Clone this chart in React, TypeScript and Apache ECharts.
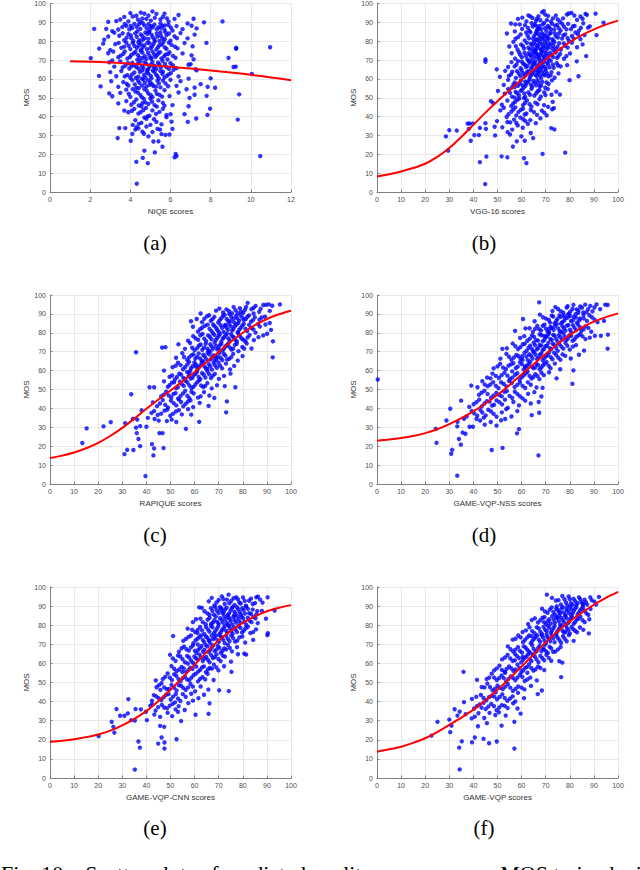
import React, { useEffect, useRef } from "react";
import * as echarts from "echarts";

// ---------- data ----------
const aPts: number[][] = [
  [4.0,94.9],[4.3,93.5],[4.7,94.6],[5.1,95.8],[5.3,94.5],[5.5,91.5],[5.7,94.6],[4.6,92],[3.7,92.9],[3.5,91.5],[3.9,90.5],[4.8,91.8],[6.4,93.9],[6.2,91.8],[7.15,91.9],[7.67,90],[8.59,90.5],[5.9,90.4],[4.5,90.2],[3.3,90.7],[2.9,90.3],
  [2.2,86.5],[2.8,86.5],[3.1,85.3],[3.4,86.2],[3.6,87.5],[3.8,88.2],[4.1,87],[4.2,89.2],[4.5,86.5],[4.7,88.4],[4.9,89],[5.0,86.7],[5.2,88.8],[5.4,87.5],[5.5,89.5],[5.7,86.1],[5.9,88.6],[6.1,85.6],[6.3,88],[6.6,86.4],[6.85,89.4],[7.05,88.2],[7.3,86.8],[4.35,85.3],[4.95,85.1],[5.6,88.1],[3.95,86.3],
  [2.7,80.8],[2.9,82.5],[3.2,84.5],[3.45,82.9],[3.7,80.5],[3.9,83.8],[4.05,81.6],[4.25,84.2],[4.45,80.5],[4.6,82.7],[4.75,84.6],[4.9,81.2],[5.05,83.5],[5.2,80.8],[5.35,82.4],[5.5,84.7],[5.6,81.5],[5.8,83.2],[6.0,80.3],[6.2,82.6],[6.5,84.3],[6.85,81.5],[7.2,83.5],[4.15,80.1],[5.45,80.1],[4.85,83.9],[5.75,84.8],
  [2.45,76.1],[2.65,78.7],[3.0,75.3],[3.25,78.4],[3.55,76.5],[3.8,79.3],[4.0,75.8],[4.2,77.6],[4.4,79.5],[4.55,75.5],[4.7,77.8],[4.85,79.2],[5.0,76.3],[5.15,78.5],[5.3,75.6],[5.45,77.9],[5.65,79.6],[5.8,75.9],[6.05,78.1],[6.35,76.2],[6.7,79],[7.1,77.3],[7.79,79.1],[9.27,76.5],[9.27,76],[10.96,76.8],[4.95,78.9],[3.7,77.1],
  [2.03,71],[2.9,73.6],[3.15,74.5],[3.4,71.5],[3.65,73.3],[3.85,70.8],[4.05,72.7],[4.25,74.3],[4.45,71.3],[4.6,73.9],[4.8,70.5],[4.95,72.3],[5.1,74.6],[5.25,71.6],[5.4,73.5],[5.55,70.9],[5.75,72.9],[5.95,74.1],[6.25,71.2],[6.6,73.5],[7.05,72.5],[7.15,70.4],[8.89,71.2],[4.35,70.2],[5.05,71.1],[5.85,70.3],
  [2.95,68.8],[3.2,66.5],[3.5,69.3],[3.75,67],[3.95,65.5],[4.1,68.5],[4.3,66.2],[4.5,69.4],[4.65,65.8],[4.8,67.9],[4.95,66.4],[5.1,69.1],[5.3,65.3],[5.45,67.7],[5.6,69.6],[5.8,66.2],[6.0,68.3],[6.3,65.7],[6.9,67.5],[7.0,67.8],[7.25,65.2],[9.14,66.3],[9.25,66.5],[4.05,66.7],[5.2,67],[3.1,69.8],
  [2.44,61.6],[3.0,63.6],[3.3,61.4],[3.55,64.2],[3.85,62],[4.0,60.6],[4.2,63.4],[4.4,61.2],[4.6,64.5],[4.75,60.8],[4.9,62.8],[5.05,60.3],[5.2,63.7],[5.35,61.5],[5.5,64.1],[5.7,60.7],[5.9,62.4],[6.15,64.8],[6.4,61.3],[6.9,60.1],[7.3,64.6],[8.0,60.3],[10.05,62.6],[4.85,64.6],[5.6,62.6],
  [2.52,56],[3.05,58.8],[3.4,55.8],[3.65,58.3],[3.9,56.5],[4.1,59.4],[4.3,55.3],[4.45,57.9],[4.65,59.6],[4.8,55.9],[5.0,58.2],[5.15,56.2],[5.35,59.1],[5.5,55.5],[5.75,57.6],[6.0,59.5],[6.3,56.3],[6.5,58.8],[7.2,55.4],[7.5,57.2],[7.85,55.8],[4.95,56.9],
  [3.1,50.8],[3.5,52.6],[3.8,54.3],[4.0,50.5],[4.25,53.3],[4.5,51.4],[4.7,54.6],[4.9,52.2],[5.1,50.3],[5.25,53.8],[5.45,51.5],[5.7,54],[5.95,50.9],[6.4,52.8],[6.8,54.5],[6.95,49.9],[7.2,51.6],[7.8,51],[8.22,55.3],[9.42,51.8],[2.95,52.3],
  [3.4,47],[3.8,48.2],[4.05,46.3],[4.3,49.1],[4.55,45.5],[4.75,47.5],[5.0,49.6],[5.2,46.1],[5.4,48.6],[5.7,45.8],[6.1,46.1],[6.9,45.5],[4.6,47.1],[4.9,46.7],
  [3.7,43.2],[3.9,42.3],[4.2,44.1],[4.4,41.6],[4.65,43.5],[4.95,40.5],[5.1,43.3],[5.45,42.5],[5.8,40.8],[6.0,41.3],[6.7,41.3],[7.84,40.9],[7.97,44.2],[4.85,40.1],
  [4.25,38.1],[4.55,36.7],[4.8,38.8],[5.0,35.6],[5.3,37.2],[5.55,35.9],[5.8,39.7],[6.05,37.3],[6.86,37.2],[7.28,39],[9.35,38.4],[4.7,39.5],
  [3.45,33.9],[3.75,33.9],[4.1,30.8],[4.25,33.1],[4.4,33.8],[4.6,32],[4.8,34.7],[4.9,29.5],[5.1,31.8],[5.35,33.5],[5.55,30.7],[5.75,30.3],[6.1,33.5],[5.95,30.5],[4.3,34.3],
  [3.37,28.6],[4.02,27.2],[4.7,21.9],[5.15,26.8],[5.4,26.9],[5.6,24],[5.22,21],
  [4.32,4.4],[4.3,16],[4.87,15.3],[4.62,18.1],[6.26,20.2],[6.3,19],[6.2,18.4],[10.47,19],
];
const aCore: number[][] = [
  [4.12,93.1],[4.52,95.2],[4.9,93.6],[5.22,92.4],[5.62,92.9],[5.02,90.9],[4.38,91.4],[5.82,92.1],
  [3.72,89.1],[4.02,88.1],[4.32,87.6],[4.62,89.6],[4.82,86.9],[5.12,87.4],[5.32,86.3],[5.52,87.1],[5.72,88.4],[6.02,87.2],[4.42,88.9],[5.02,88.1],
  [3.62,84.2],[3.82,81.9],[4.02,83.1],[4.32,82.3],[4.52,83.6],[4.72,81.6],[4.92,84.9],[5.12,82.1],[5.32,84.1],[5.52,82.9],[5.72,81.1],[5.92,84.1],[6.32,81.6],[4.62,80.7],
  [3.42,79.1],[3.92,77.6],[4.12,79.1],[4.32,76.4],[4.52,78.6],[4.62,76.9],[4.82,75.8],[5.08,77.2],[5.22,79.9],[5.38,76.8],[5.58,78.2],[5.72,76.7],[5.92,79.2],[6.22,77.1],[4.42,77.7],
  [3.52,72.3],[3.72,74.6],[3.98,71.6],[4.18,73.6],[4.38,72.6],[4.52,74.8],[4.72,72.1],[4.88,73.9],[5.02,70.9],[5.18,73.1],[5.32,72.6],[5.48,74.2],[5.68,71.9],[5.88,73.2],[6.12,72.2],[4.62,71.1],
  [3.62,66.1],[3.88,68.3],[4.18,67.3],[4.38,68.1],[4.58,66.9],[4.72,68.8],[4.88,65.1],[5.02,67.6],[5.18,65.9],[5.38,68.6],[5.52,66.1],[5.72,67.9],[5.92,65.4],[6.12,67.2],[4.42,65.4],
  [3.72,61.3],[4.08,62.3],[4.28,60.6],[4.48,63.6],[4.68,62.1],[4.82,63.4],[5.02,61.6],[5.12,64.4],[5.28,62.3],[5.42,60.2],[5.62,63.9],[5.82,61.6],[6.02,63.1],[4.58,60.1],
  [3.82,57.4],[4.22,57.1],[4.38,59.1],[4.58,56.4],[4.72,57.9],[4.88,59.3],[5.08,57.1],[5.28,55.9],[5.42,57.6],[5.62,59.1],[5.88,56.1],[4.42,55.1],
  [3.92,52.1],[4.38,52.7],[4.58,50.2],[4.82,53.6],[5.02,51.4],[5.32,52.1],[5.58,50.6],[4.12,54.6],
  [4.18,47.6],[4.42,45.9],[4.68,49.3],[5.08,47.9],[5.32,45.3],[5.62,47.3],
  [4.08,43.1],[4.52,42.4],[4.78,44.6],[5.28,41.4],[5.62,44.1],
  [4.42,36.1],[5.18,38.6],[4.12,35.6],[5.48,33.1],[4.68,30.9],
];
const aCurveX = [1, 2, 3, 4, 5, 6, 7, 8, 9, 10, 11, 12];
const aCurveY = [69.3, 69.1, 68.7, 68.1, 67.3, 66.4, 65.5, 64.5, 63.4, 62.2, 60.8, 59.3];

const bPts: number[][] = [
  [58.5,91.8],[62,90.5],[64.5,92.3],[66,90.8],[67,93.2],[68.5,95.3],[69.2,96],[70.5,91.2],[71,93.4],[73,92.1],[75,91.5],[78.8,94.1],[79.5,94.7],[80.7,95],[84.4,93.1],[86.5,94.5],[87.1,94],[90.7,94.6],[76,90.3],[83,91.3],[62.8,93.7],[57.4,88.9],
  [55.6,89.4],[57.2,85.2],[60.2,86.5],[61.4,88.5],[63.2,85.5],[64.6,87.8],[65.4,89.1],[66.3,85.9],[67.4,88.1],[68.2,86.4],[69.3,89.7],[70.3,85.3],[71.4,87.3],[72.6,89.2],[73.5,86.1],[74.8,88.6],[76.2,85.6],[77.6,87.7],[79.3,89.2],[80.5,86.4],[82,88.1],[83.8,85.6],[85.6,89.5],[87.6,87.2],[88.3,87.9],[94,89.8],[66.9,87],[69.8,86.9],
  [53.9,84.1],[57.5,81.3],[59.6,83.6],[61.3,80.4],[62.5,82.9],[63.7,84.7],[64.8,81.2],[65.8,83.8],[66.6,80.6],[67.5,82.4],[68.4,84.3],[69.3,80.9],[70.2,83.1],[71.2,81.6],[72.1,84.5],[73.2,80.3],[74.2,82.6],[75.5,84.1],[76.8,81.4],[78.1,83.6],[79.6,80.2],[80.9,82.8],[82.3,84.6],[84.4,81.1],[86.1,83.3],[91.1,83.2],[66.1,84.8],[68.9,82.1],[70.8,80.2],
  [54.9,77.2],[56.6,79.6],[58.3,75.6],[59.8,78.2],[61,76.1],[62.2,79.1],[63.4,75.8],[64.3,77.9],[65.2,79.6],[66.2,76.4],[67.1,78.4],[68,75.4],[68.9,77.3],[69.7,79.3],[70.6,75.9],[71.5,78.1],[72.6,76.2],[73.6,79.4],[74.9,77.1],[76.3,75.6],[77.5,78.8],[79.1,76.6],[80.9,79.2],[83,76.8],[85.3,78.3],[65.8,75.2],[67.6,79.8],
  [55.9,73.6],[57.3,70.8],[58.9,74.2],[60.1,71.5],[61.2,73.8],[62.4,70.4],[63.5,72.7],[64.5,74.6],[65.3,71.3],[66.1,73.5],[67,70.6],[67.8,72.8],[68.7,74.7],[69.5,71.6],[70.4,73.4],[71.3,70.3],[72.4,72.6],[73.5,74.8],[74.7,71.2],[76,73.3],[77.6,70.7],[80.1,73.5],[82.9,69.3],[86.8,72.1],[45,70.4],[45,69.1],[66.5,71.9],[69,70.1],
  [49.7,65.1],[54.4,66.3],[55.8,68.9],[57.1,66.6],[58.5,69.4],[59.6,65.7],[60.7,68.1],[61.8,66.2],[62.9,69.5],[63.9,65.4],[64.8,67.6],[65.7,69.3],[66.6,65.8],[67.4,68.2],[68.3,66.1],[69.2,69.1],[70,65.5],[71,67.7],[72.1,69.6],[73.3,65.9],[74.6,68.4],[76.2,66.6],[78.9,67.3],[64.2,69.9],[67.9,65.1],
  [51,61.1],[53.2,64.3],[54.7,61.6],[56.1,63.8],[57.6,60.5],[58.8,62.9],[60,64.6],[61.1,61.2],[62.3,63.6],[63.4,60.8],[64.4,62.7],[65.4,64.8],[66.3,61.5],[67.2,63.4],[68.1,60.3],[69,62.4],[70,64.3],[71.1,61.3],[72.4,63.6],[73.7,60.6],[75.3,62.9],[83.6,61.4],[66.9,64.1],
  [52.6,56.8],[54.4,59.5],[55.9,55.5],[57.2,58.1],[58.5,56.3],[59.7,59.2],[60.9,55.4],[62.1,57.7],[63.3,59.6],[64.4,55.8],[65.5,57.9],[66.5,59.4],[67.5,56.1],[68.6,58.4],[69.8,55.3],[71.2,57.3],[72.6,59.2],[79.9,59.3],[61.5,58.6],[57.1,55.6],
  [50.2,53.6],[53,52.2],[54.4,54.6],[56,50.6],[57.5,53.1],[58.9,51.2],[60.2,54.3],[61.5,50.4],[62.8,52.8],[64.1,54.7],[65.3,51.1],[66.7,53.5],[68,50.6],[69.4,52.9],[70.9,54.6],[72.4,51.6],[74.4,53.2],[75.9,51.7],[57.1,50.1],
  [47.3,48.2],[48.2,47.1],[51.8,46.3],[54.1,48.5],[55.7,45.6],[57.3,47.8],[59,49.5],[60.6,46.1],[62.2,48.6],[64.1,45.3],[65.7,47.4],[67.4,49.3],[69.3,46.1],[71,45.2],[72.9,47.8],[61,49.8],
  [51.2,43.3],[52.6,44.7],[54.6,41.3],[56.6,43.8],[57.8,40.6],[58.7,42.4],[60.6,44.2],[62,41.6],[63.8,43.5],[66.4,40.9],[68.4,43.2],[70.4,40.6],[72.7,43.9],[73.4,44.5],[57.4,44.9],
  [45,36.5],[49.8,37.6],[53.8,39.8],[55.3,36.9],[56.9,38.4],[58.4,35.3],[59.5,39.5],[61.6,37.6],[63.6,38.1],[65.9,36.5],[67.8,39.1],[37.6,36.3],[38.4,36.3],[39.7,36.3],
  [28.6,29.5],[30,32.8],[33.1,32.6],[38.1,33.5],[40.4,30.2],[42.7,34],[42.3,30.2],[45.2,33.5],[48.8,34.6],[49,30],[52,34.3],[54.2,31.8],[56.1,33.1],[60.5,34.1],[63.8,31.3],[72.3,33.9],[73.6,33.2],[55.2,30.5],
  [29.5,21.9],[38.9,27.2],[56.4,24.1],[58,26.9],[59.9,29.5],[61.3,27.2],[64.8,28.6],[68.7,20.2],[78.1,20.9],
  [42.7,15.8],[45.4,18.8],[44.9,4.2],[51.7,18.9],[54.1,18.4],[61,17.9],[62,15.3],
];
const bCore: number[][] = [
  [63.6,93.2],[66.4,91.9],[69.8,94.1],[72.2,90.4],[74.2,93.6],[77.2,92.1],[81.9,93.6],[85.3,91.9],[67.8,91.1],[60.3,92.5],
  [62.6,87.1],[64.1,89.6],[65.9,88.3],[67.1,86.2],[68.8,88.9],[70.9,88.1],[72.1,86.4],[73.9,88.3],[75.4,86.9],[76.9,89.1],[78.6,86.3],[81.3,87.9],[84.6,87.1],[59.2,88.9],
  [61.9,84.6],[63.1,81.5],[65.1,82.6],[66.2,80.9],[67.1,83.8],[68.1,81.3],[69.1,83.5],[70.6,82.1],[71.7,83.9],[72.7,81.1],[73.8,84.1],[75.1,81.9],[77.3,83.1],[79.1,81.6],[81.6,81.4],[83.4,83.7],[58.6,82.2],
  [60.6,77.4],[62.8,76.6],[63.9,78.7],[64.8,76.1],[65.7,78.3],[66.6,77.4],[67.6,76.2],[68.4,78.6],[69.3,76.4],[70.2,78.1],[71.1,76.7],[72.1,78.8],[73.1,77.6],[74.2,75.9],[75.6,78.9],[78.1,77.6],[57.6,77.4],
  [59.4,72.8],[61.8,72.1],[62.9,73.6],[63.9,71.9],[64.9,73.1],[65.7,74.4],[66.7,72.9],[67.4,71.3],[68.2,73.9],[69.1,72.2],[69.9,74.1],[70.9,72.1],[71.9,73.9],[73.1,71.6],[74.1,73.9],[75.3,71.9],[78.6,72.1],
  [57.9,67.6],[60.1,69.1],[61.3,67.6],[62.4,66.9],[63.4,68.6],[64.3,66.4],[65.2,68.4],[66.1,67.1],[67,66.6],[67.8,69.6],[68.7,67.4],[69.6,66.3],[70.6,68.6],[71.6,66.1],[73,67.6],[75.1,67.1],
  [55.6,62.4],[58.1,64.1],[59.4,61.6],[60.6,63.1],[61.7,62.3],[62.8,64.1],[63.9,61.9],[64.9,63.8],[65.8,62.1],[66.7,63.4],[67.7,61.6],[68.6,63.9],[69.6,61.9],[70.6,62.9],[72,61.9],
  [56.6,57.1],[59.1,57.6],[60.3,56.7],[61.6,56.3],[62.7,58.6],[63.9,56.9],[64.9,58.9],[66,56.6],[67.1,58.1],[68.1,56.4],[70.4,58.1],
  [55.2,52.6],[58.2,52.4],[59.6,53.6],[61.1,52.3],[63.5,51.6],[66.1,52.4],[67.4,54.1],[69.9,51.4],
  [56.5,46.9],[58.2,48.9],[61.4,47.2],[63.3,46.6],[66.6,46.6],
  [55.8,42.7],[59.7,43.6],[61.3,41.1],[65.1,42.4],[69.4,42.1],
  [54.1,37.1],[57.8,36.6],[60.7,38.6],[62.6,36.1],
];
const curveX100 = [0, 5, 10, 15, 20, 25, 30, 35, 40, 45, 50, 55, 60, 65, 70, 75, 80, 85, 90, 95, 100];
const bCurveY = [8.2, 9.4, 10.9, 12.7, 15.0, 18.6, 23.3, 29.2, 35.6, 42.1, 48.2, 53.9, 59.5, 65.0, 70.2, 75.0, 79.5, 83.2, 86.3, 88.8, 90.9];

const cPts: number[][] = [
  [62.5,90.2],[66,89.3],[68.9,91.7],[71.8,90.8],[73.2,92.4],[75.5,90.3],[77,91.9],[78.8,93],[80.2,90.6],[82,95.8],[83.6,92.5],[85.3,94.2],[86.8,91.1],[88.5,94.7],[89.6,94.8],[90.8,95],[92.2,94.3],[95.4,95],[79.3,91.2],[84.5,90.2],[81.4,93.7],
  [58.5,86.1],[60.9,87.3],[63.1,85.6],[65.1,88.7],[66.7,86.3],[68.2,88.4],[69.8,85.4],[71.1,87.7],[72.5,89.5],[73.9,86.2],[75.2,88.4],[76.4,85.5],[77.7,87.6],[79,89.4],[80.4,86.8],[81.9,88.5],[83.4,85.9],[85,88.2],[86.9,86.9],[89.2,88.5],[91.2,85.2],[74.4,89.9],[78.1,85.1],
  [59.3,83.2],[61.4,80.6],[63.2,82.8],[65.4,84.3],[67,80.9],[68.3,83.5],[69.5,81.3],[70.8,84.1],[72,80.5],[73.2,82.8],[74.4,84.7],[75.6,81.2],[76.7,83.4],[77.9,80.3],[79.1,82.6],[80.4,84.7],[81.8,80.9],[83.5,82.6],[85.3,80.1],[87.1,83.3],[89.4,84.4],[91.7,81.5],[72.8,84.2],
  [57.3,75.8],[59.4,78.2],[61.5,76.3],[63.3,79.4],[64.8,75.6],[66.3,77.9],[67.6,79.8],[68.8,76.2],[70,78.4],[71.1,75.3],[72.2,77.6],[73.4,79.5],[74.6,75.9],[75.7,78.1],[76.9,76.3],[78.1,79.6],[79.5,77],[81.1,75.4],[82.8,78.8],[84.6,76.1],[88.5,78.6],[92.5,75.5],[90.1,79.5],
  [53.3,73.9],[56,71.5],[58.1,74.6],[60,70.8],[61.8,73.2],[63.2,71],[64.6,74.2],[65.9,70.4],[67.1,72.7],[68.3,74.8],[69.4,71.2],[70.5,73.5],[71.6,70.6],[72.8,72.8],[74,74.4],[75.3,71.1],[76.7,73.6],[78.2,70.3],[79.8,72.5],[81.6,74.3],[83.6,71.7],[35.7,69.7],[46.5,72.2],[47.9,72.4],[66.6,70.1],
  [52.3,66.8],[54.9,69.2],[56.9,65.7],[58.7,68.1],[60.3,66.3],[61.7,69.1],[63,65.2],[64.2,67.5],[65.4,69.5],[66.6,65.8],[67.8,68],[69,66.1],[70.2,69.2],[71.5,65.6],[72.8,67.9],[74.3,66.2],[76,68.8],[77.9,65.3],[79.9,67.7],[92.4,67],[68.4,67.7],
  [50.9,61.8],[53.1,64.2],[55.2,60.7],[57,63.3],[58.5,61.3],[59.9,64.3],[61.1,60.4],[62.3,62.6],[63.5,64.7],[64.7,61.1],[65.9,63.4],[67.2,60.5],[68.5,62.8],[69.9,64.3],[71.4,61.2],[73,63.7],[74.7,60.6],[76.4,62.5],[47.3,60],[60.6,62.2],[58.2,59.9],
  [49.6,56.7],[51.8,55.3],[53.6,58.4],[55.3,56.2],[56.9,59.3],[58.4,55.8],[59.7,57.7],[61,59.3],[62.4,55.5],[63.8,57.8],[65.3,59.6],[66.8,56.1],[68.4,58.3],[70.1,55.6],[72.2,57.2],[74.9,58.4],[57.5,57.1],
  [47.3,54.3],[48.9,51.4],[50.6,53.6],[52.3,50.7],[53.9,54.2],[55.5,51.9],[57,53.8],[58.7,50.8],[60.3,52.6],[61.9,54.8],[63.6,51.3],[65.3,53.4],[67.1,50.6],[69.3,52.2],[72.5,51.8],[76.9,51.2],[41.3,51.2],[43.2,51.2],
  [46.1,46.3],[48.2,48.8],[50.3,45.8],[52.1,48.1],[54.2,46.6],[56.1,49.3],[57.8,45.4],[59.6,47.9],[61.4,45.7],[63.9,48.6],[66.1,46.8],[33.7,47.5],[68.2,45.5],
  [42.7,43.2],[44.4,41.2],[46.8,44.4],[48.9,40.5],[51.3,42.8],[53.5,44.6],[55.3,41.1],[57.2,43.6],[59.4,40.7],[62.1,42.9],[65.8,41.3],[73.4,43.7],
  [38,39],[40.6,35],[42.1,37.6],[44.7,36.5],[47.5,38.8],[49.9,36.1],[52.3,38.4],[54.7,36.8],[57.3,39.6],[58.6,36.7],[73.1,37.9],
  [22.2,30.5],[25.2,32.7],[31.2,32.2],[34.4,34.5],[36.2,34.1],[37.4,30.6],[40,30.3],[43.4,34.4],[45.1,33.5],[48.5,33.3],[50.5,34.1],[52.4,32.8],[61.9,32.9],
  [13.4,21.7],[15.2,29.4],[35.7,29.8],[36,26.9],[36.7,23.8],[37.4,20],[42.3,21.1],[45.4,26.9],[46.7,26.9],[56.4,29.2],
  [30.9,15.8],[32,18.1],[34.6,18],[39.6,4.2],[43.2,18.8],[42.9,15.1],[47.1,19],
];
const cCore: number[][] = [
  [70.3,92.8],[74.3,91.4],[76.2,93.6],[80.9,92.2],[84.5,93.2],[87.4,92.7],[91.2,91.6],[77.9,90.4],
  [64,87.4],[67.4,87.2],[70.4,86.6],[71.8,88.9],[73.3,87.3],[74.8,86.2],[76.1,87.4],[77.2,88.9],[78.5,86.4],[79.8,88.1],[81.2,87.2],[82.6,89.2],[84.2,86.7],[87.8,88.1],
  [62.3,81.9],[64.3,83.7],[66.2,82.1],[67.7,84.4],[69,82.4],[70.1,80.3],[71.4,82.6],[72.6,83.8],[73.8,81.6],[75,83.4],[76.1,82.1],[77.3,84.4],[78.5,81.5],[79.8,83.8],[81.1,82.1],[82.6,84.2],[84.4,81.8],[86.3,84.6],
  [60.4,77.1],[62.4,78.7],[64,76.9],[65.6,78.6],[67,76.6],[68.2,78.9],[69.4,77.3],[70.5,79.2],[71.7,76.9],[72.8,78.6],[74,77.1],[75.1,79.3],[76.3,77.5],[77.5,75.5],[78.8,78.2],[80.3,76.3],[82,77.5],[86.5,77.7],
  [59,72.1],[61.1,71.9],[62.5,73.8],[63.9,72.2],[65.3,71.6],[66.5,73.9],[67.7,71.6],[68.9,73.1],[70,71.9],[71.1,74.1],[72.2,71.7],[73.4,73.4],[74.6,72.3],[76,71.6],[77.5,74.2],[80.6,71.6],
  [55.6,67.2],[57.7,66.9],[59.5,68.6],[61,67.3],[62.3,66.4],[63.6,68.4],[64.8,66.1],[66,68.6],[67.2,66.9],[68.4,65.3],[69.6,67.2],[70.8,66.8],[72.1,68.9],[73.5,65.8],[75.2,67.1],
  [52.2,62.6],[54.2,62.9],[56.1,61.9],[57.7,64.6],[59.2,62.3],[60.5,63.3],[61.7,61.6],[62.9,63.9],[64.1,62.2],[65.3,60.9],[66.5,62.3],[67.9,64.1],[69.2,61.5],[70.6,62.6],
  [50.7,57.4],[52.7,56.6],[54.4,57.9],[56.1,55.6],[57.7,58.6],[59.1,56.2],[60.4,58.3],[61.7,56.6],[63.1,58.7],[64.5,56.3],[66,58.1],[67.6,57.3],
  [49.6,52.3],[51.5,53.8],[53.1,51.3],[54.7,52.8],[56.2,54.6],[57.8,52.2],[59.5,51.4],[61.1,53.9],[62.7,52.1],[64.4,51.9],
  [47.2,47.3],[49.2,46.9],[51.2,47.6],[53.2,45.3],[55.2,47.9],[57,46.7],[58.7,48.8],[62.5,46.4],
  [45.6,42.6],[47.8,41.9],[50.2,44.1],[52.4,41.6],[54.4,43.4],[56.3,42.4],[58.3,44.2],
  [43.2,38.6],[46.1,37.2],[48.7,39.4],[51.1,37.2],[53.5,39.1],
];
const cCurveY = [13.7, 15.0, 16.7, 18.9, 21.8, 25.4, 29.7, 34.6, 39.8, 44.7, 49.5, 54.3, 59.3, 64.6, 69.9, 75.2, 80.0, 84.0, 87.3, 89.8, 91.7];

const dPts: number[][] = [
  [67.3,96.1],[72.8,91.5],[75.1,92.6],[77.3,90.7],[78.7,93.3],[80.2,91.2],[81.5,94.8],[82.8,92.4],[84.3,93.9],[85.6,90.8],[86.4,94.9],[87.6,92.5],[89.4,91.3],[91.1,95],[94.7,94.9],[95.7,94.7],[79.6,90.1],[83.5,90.5],[88.5,94.2],
  [60.6,87.3],[65.4,86.1],[67.6,89.6],[70.1,87.5],[71.8,85.4],[73.1,88.6],[74.4,86.3],[75.7,89.2],[76.9,85.6],[78.1,87.9],[79.3,89.6],[80.5,86.2],[81.7,88.4],[83,85.4],[84.3,87.6],[85.7,89.5],[87.1,86.3],[89.2,88.2],[91.5,85.6],[94.2,86.3],[77.5,89.3],[82.4,89.9],[73.7,85.1],
  [57.3,81],[61.6,82.3],[64.7,80.5],[66.5,83.7],[68.1,81.2],[69.5,84.3],[70.8,80.6],[72,83.1],[73.3,81.5],[74.6,84.6],[75.8,80.8],[77,83.4],[78.2,81.2],[79.4,84.1],[80.6,80.4],[81.9,82.7],[83.3,84.5],[84.8,81.1],[86.5,83.4],[88.9,80.6],[76.3,84.9],[71.4,81.9],
  [59.4,77.3],[62.4,75.8],[64.3,78.6],[66,76.1],[67.5,79.2],[68.8,75.5],[70.1,77.8],[71.3,79.6],[72.5,76.3],[73.7,78.5],[74.9,75.4],[76.1,77.7],[77.3,79.7],[78.5,76.2],[79.8,78.6],[81.2,75.8],[82.7,77.9],[84.4,79.4],[86.5,76.7],[90.4,78.4],[92.9,78.4],[95.8,79],[69.4,78.3],
  [53.9,71.8],[56.3,74.3],[58.5,71.4],[60.5,73.9],[62.1,70.5],[63.6,73.2],[65,74.8],[66.3,71.2],[67.5,73.6],[68.7,70.7],[69.9,72.9],[71.1,74.7],[72.3,71.3],[73.6,73.5],[75,70.4],[76.5,72.7],[78.2,74.6],[80,71.1],[82.6,73.5],[85.9,70.6],[95.7,71.6],[52,71.5],[64.8,70.1],
  [51.2,66.3],[53.7,68.8],[55.8,65.7],[57.8,68.3],[59.6,66.2],[61.2,69.4],[62.6,65.5],[63.9,67.8],[65.2,69.7],[66.4,66.1],[67.6,68.4],[68.8,65.3],[70.1,67.6],[71.4,69.5],[72.8,66],[74.3,68.3],[76.1,65.7],[78.1,67.8],[80.4,66.4],[83.8,68.4],[60.3,67.6],
  [48.4,61.2],[51.1,63.6],[53.5,60.8],[55.6,63.3],[57.6,61.3],[59.3,64.4],[60.9,60.5],[62.3,62.7],[63.6,64.6],[64.9,61.3],[66.2,63.5],[67.5,60.7],[68.9,62.8],[70.4,64.5],[72,61.3],[73.8,63.7],[76,60.7],[81.5,60.1],[61.4,62.2],
  [0.3,55.3],[45.7,56.3],[47.9,58.4],[50.6,56.1],[52.9,58.9],[55.2,55.6],[57.3,57.8],[59.2,55.3],[60.9,57.6],[62.5,59.4],[64.1,55.8],[65.7,58.1],[67.4,55.5],[69.2,57.6],[71.4,59.1],[74.5,55.9],[56.1,59.6],
  [41.7,51.2],[43.7,54.4],[45.9,51.7],[48.2,53.8],[50.4,50.7],[52.6,52.9],[54.8,54.6],[57.1,51.3],[59.3,53.7],[61.5,50.8],[63.8,52.5],[66.2,51.1],[68.7,50.9],[81.1,53],[39.1,52.1],[47.1,55.9],
  [42.3,47.2],[44.6,49.3],[47.3,45.6],[49.5,48.2],[51.8,46.4],[53.9,49.1],[56.1,45.5],[58.3,47.6],[60.4,45.3],[62.7,47.7],[65.3,48.6],[68.2,46.3],
  [34.9,44.1],[38.3,40.8],[41.3,43.3],[43.5,41.1],[45.6,43.8],[47.7,41.5],[49.6,44.2],[51.9,42.1],[54.3,40.3],[56.6,43.4],[58.9,41.6],[61.5,44.1],[63.8,42.6],[67.1,43.4],
  [30.4,39.8],[37.2,35.7],[40.3,37.4],[42.9,39.1],[45.1,36.3],[47.3,38.4],[49.6,35.6],[51.8,37.9],[53.6,39.6],[55.8,35.7],[58.2,38.6],[67.3,37.7],[64.2,36.4],[44.3,35.1],
  [28.8,33.6],[33.3,30.5],[33.4,32.9],[36.1,34.5],[38.4,30.3],[39.8,30.3],[42.8,33.6],[44.7,31.4],[47.2,32.8],[49.6,30.9],[51.5,33.7],[53.2,34.4],[41.3,34.4],
  [24.4,29.2],[24.7,21.8],[34,23.8],[34.8,20.8],[35.5,27.2],[36.7,26.6],[58.1,26.8],[58.9,29],
  [30.8,16],[31.2,18.1],[33.3,4.4],[47.6,18],[52.1,19.1],[67,15.1],
];
const dCore: number[][] = [
  [74,93.6],[76.2,91.4],[79.1,94.1],[81.1,92.6],[83.6,91.9],[85.1,93.3],[87,90.9],[90.2,93.4],[92.6,92.5],
  [68.9,88.2],[71.3,86.8],[72.5,89.1],[74.9,87.4],[76.3,88.4],[77.7,86.4],[79,87.9],[80.1,88.9],[81.3,86.6],[82.6,88.1],[84,86.6],[85.8,87.6],[88.1,89.3],[90.3,86.9],
  [63.3,82.4],[65.6,82.1],[67.3,81.9],[68.8,83.7],[70.1,82.2],[71.4,80.4],[72.6,82.6],[73.9,83.6],[75.2,82.3],[76.4,80.6],[77.6,82.4],[78.8,83.8],[80.1,81.6],[81.3,84.1],[82.6,81.4],[84.1,83.1],[85.7,81.8],[87.7,82.6],
  [61.1,78.2],[63.4,76.9],[65.2,77.8],[66.8,75.9],[68.2,78.7],[69.5,76.4],[70.7,78.3],[71.9,76.7],[73.1,78.9],[74.3,76.9],[75.5,78.8],[76.7,76.3],[77.9,78.1],[79.2,76.9],[80.6,78.4],[82,76.6],[83.6,78.6],[85.3,78.1],[88.3,77.4],
  [57.4,72.9],[59.5,72.4],[61.3,74.2],[62.9,72.1],[64.3,71.4],[65.6,73.4],[66.9,71.9],[68.1,73.2],[69.3,71.5],[70.5,73.1],[71.7,71.9],[72.9,74.2],[74.3,72.1],[75.7,73.9],[77.3,71.6],[79,73.1],[81.3,72.7],
  [54.8,67.3],[56.8,66.9],[58.7,67.6],[60.4,65.6],[62,67.4],[63.2,68.6],[64.5,66.4],[65.8,68.4],[67,66.8],[68.2,69.1],[69.4,66.6],[70.8,68.2],[72.1,67.1],[73.5,69.4],[75.2,66.9],[77,68.6],
  [50,62.2],[52.3,61.6],[54.6,62.6],[56.6,63.9],[58.4,62.1],[60.1,63.4],[61.6,61.6],[63,63.6],[64.3,62.1],[65.6,61.6],[66.9,62.9],[68.2,61.6],[69.6,63.7],[71.2,62.6],
  [49.3,57.2],[51.7,57.6],[54.1,57.3],[56.2,56.3],[58.2,58.6],[60.1,56.5],[61.7,58.6],[63.3,57.2],[64.9,56.6],[66.6,57.1],[68.2,58.9],
  [44.7,52.6],[47,52.6],[49.3,51.9],[51.5,53.8],[53.7,51.6],[55.9,53.4],[58.2,52.4],[60.4,51.9],[62.6,53.8],
  [43.4,48.3],[45.9,47.6],[48.3,46.8],[50.7,47.1],[52.9,48.7],[55,46.6],[57.2,48.8],[59.3,46.4],
  [40.1,42.2],[42.4,44.6],[44.6,42.6],[46.7,43.6],[48.6,41.9],[50.8,43.3],[53.1,44.6],
  [39.3,38.6],[41.6,36.1],[43.7,37.8],[46.2,39.3],[48.4,37.1],
];
const dCurveY = [22.9, 23.5, 24.3, 25.4, 26.9, 29.0, 31.7, 34.8, 38.4, 42.6, 47.2, 52.4, 57.9, 63.4, 68.8, 74.1, 78.9, 82.8, 85.9, 88.3, 90.3];

const ePts: number[][] = [
  [65.9,92.5],[68.2,90.3],[70,93.2],[71.3,95.1],[72.5,91.1],[74.1,96],[75.2,92.7],[76.6,90.6],[78,93.5],[79.1,91.3],[80.1,94.5],[81.3,90.2],[82.6,92.8],[84.1,91.1],[85.6,94.6],[86.3,95],[88.2,91.8],[90.3,94.6],[77.3,94.6],[73.4,93.4],
  [61.9,89.3],[63,89.1],[65.3,86.2],[66.8,88.9],[68,85.5],[69.3,87.7],[70.5,89.5],[71.6,86.2],[72.7,88.3],[73.8,85.4],[74.9,87.6],[75.9,89.6],[77,86.1],[78.1,88.4],[79.2,85.7],[80.3,87.9],[81.4,89.7],[82.7,86.3],[84.1,88.2],[85.6,85.6],[87.9,87.5],[93.2,87.7],[76.4,85.1],[71.1,88.9],
  [59.3,81.6],[62.4,83.4],[64.6,80.5],[66.2,83.8],[67.6,81.3],[68.8,84.5],[70,80.7],[71.2,82.9],[72.3,84.8],[73.4,81.2],[74.5,83.5],[75.6,80.4],[76.7,82.7],[77.8,84.6],[78.9,81.5],[80.1,83.7],[81.4,80.3],[82.8,82.4],[84.4,84.3],[86.2,81.1],[89.6,83.4],[73.9,80.1],
  [57.1,78.2],[60.2,76.4],[62.3,79.1],[64,75.4],[65.5,77.8],[66.8,79.7],[68,75.8],[69.2,78.1],[70.3,75.3],[71.4,77.5],[72.5,79.6],[73.6,76.1],[74.7,78.3],[75.8,75.5],[77,77.7],[78.3,79.6],[79.7,76.2],[81.2,78.4],[83.1,75.9],[85.5,77.8],[90.2,74.8],[90.4,75.8],[61.3,77.6],
  [51.1,74.3],[55.3,71.8],[57.5,73.9],[59.5,70.6],[61.2,72.9],[62.7,74.6],[64,71.1],[65.3,73.4],[66.5,70.5],[67.7,72.7],[68.9,74.5],[70.1,71.3],[71.3,73.6],[72.5,70.6],[73.8,72.8],[75.2,74.5],[76.8,71.4],[78.6,73.6],[81,70.9],[84.3,72.3],[66.2,72.1],
  [53.5,66.1],[55.6,68.8],[57.6,66.7],[59.3,69.4],[60.8,65.5],[62.2,68],[63.5,66.1],[64.7,69.6],[65.9,65.8],[67.1,68.3],[68.3,66.4],[69.6,69.1],[70.9,65.6],[72.3,67.9],[73.8,69.7],[75.5,66.3],[77.6,68.5],[80.6,65.1],[61.3,69.9],
  [49.8,64.5],[52.1,61.3],[54.1,63.6],[56,60.6],[57.7,63.1],[59.2,60.4],[60.6,62.7],[62,64.6],[63.4,61.2],[64.8,63.4],[66.2,60.6],[67.6,62.8],[69.1,64.7],[70.8,61.2],[72.6,63.5],[75.1,60.9],[81.4,64.6],[78,64.8],
  [50.4,58.6],[52.5,55.9],[54.6,58.1],[56.5,55.5],[58.2,57.8],[59.9,59.6],[61.5,55.7],[63.1,57.9],[64.7,55.4],[66.3,57.6],[68,59.4],[69.9,56.3],[72.2,58.5],[75.3,55.6],[57.2,59.9],
  [46.8,51.8],[48.8,54.7],[50.6,51.3],[52.4,53.5],[54.2,50.7],[56,53.2],[57.8,51.2],[59.6,53.9],[61.4,50.6],[63.3,52.8],[65.4,54.5],[67.9,51.3],[43.9,51.1],[54.9,55.5],
  [44.2,47.5],[46.3,49.6],[48.5,46.5],[50.4,48.8],[52.5,45.8],[54.4,48.3],[56.3,46.1],[58.3,49.2],[60.2,45.4],[62.5,47.9],[65.7,46.3],[70.2,45.9],[74.2,45.5],[45.8,46.1],
  [32.5,41.3],[42.3,40.5],[44.1,42.7],[46.2,40.8],[48.2,43.6],[50.1,41.1],[52.2,43.9],[54.1,40.3],[56.3,42.5],[58.6,44.1],[61.6,41.8],[63.9,43.6],[59.3,40.5],
  [27.6,36.1],[35.5,36.1],[37.7,35.9],[41.6,37.8],[43.8,35.3],[46.4,38.3],[48.6,36.5],[50.9,38.8],[53.4,37.6],[55.9,35.6],[57.4,39.2],[66.2,39.1],[52.1,35.9],
  [29.1,32.6],[30.9,32.6],[32.3,33.8],[33.7,30.3],[35.2,30.1],[39.8,34.7],[40.2,30.3],[43.3,33.2],[45.7,32],[48.8,34.1],[50.7,32.4],[53.1,34.6],[60.4,33.1],[65.8,33.6],
  [20.2,21.9],[25.6,29.4],[26.3,26.8],[26.7,23.8],[45.7,27.3],[46.3,21.2],[47.4,26.8],[52.5,20.3],[54.4,29.8],
  [35.2,4.4],[36.7,19.1],[37.3,15.9],[44.9,18],[47.5,18.6],[47.5,15.4],
];
const eCore: number[][] = [
  [67.1,94.3],[69.1,91.9],[71.9,93.7],[74.4,91.5],[76.2,94.1],[78.6,91.9],[80.8,92.7],[83.4,93.9],[85.1,91.6],[87.2,93.4],
  [64.1,87.3],[66.2,85.4],[67.4,87.5],[68.6,89.4],[69.9,86.4],[71,88.1],[72.1,86.9],[73.3,89.2],[74.3,86.1],[75.4,88.9],[76.5,87.1],[77.6,89.4],[78.7,86.9],[79.8,88.9],[80.9,86.1],[82.1,88.5],[83.4,85.9],[86,87.4],
  [60.6,83.1],[63.4,81.6],[65.4,82.9],[66.9,80.8],[68.2,82.6],[69.4,81.7],[70.6,83.7],[71.7,81.4],[72.8,83.1],[73.9,84.2],[75,82.2],[76.1,84.3],[77.2,81.4],[78.3,83.1],[79.5,84.5],[80.7,81.9],[82.1,83.9],[83.6,81.6],[85.3,83.6],
  [59,77.6],[61.2,75.9],[63.1,77.3],[64.7,79.1],[66.1,76.6],[67.4,78.9],[68.6,76.9],[69.8,79.4],[70.9,76.4],[72,78.4],[73.1,77.1],[74.2,79.6],[75.3,76.9],[76.4,78.9],[77.6,76.4],[79,78.6],[80.4,77.2],[82.1,79.2],[84.3,76.4],
  [56.4,72.8],[58.5,74.6],[60.4,72.1],[62,73.8],[63.4,72.3],[64.7,74.1],[65.9,71.9],[67.1,74.6],[68.3,73.3],[69.5,72.1],[70.7,74.3],[71.9,72.3],[73.1,74.4],[74.5,71.6],[76,73.2],[77.7,71.9],[79.8,74.1],
  [54.6,67.9],[56.6,67.4],[58.5,68.4],[60.1,66.6],[61.5,67.1],[62.9,69.1],[64.1,67.2],[65.3,68.9],[66.5,67.1],[67.7,69.4],[69,67.2],[70.3,68.1],[71.6,66.6],[73.1,67.3],[74.6,68.1],
  [51,62.6],[53.1,64.1],[55,62.2],[56.9,63.9],[58.5,61.6],[59.9,63.6],[61.3,61.9],[62.7,63.1],[64.1,62.6],[65.5,61.9],[66.9,64.3],[68.4,63.3],[69.9,62.3],[71.7,64.1],
  [51.5,57.2],[53.6,56.8],[55.5,57.4],[57.4,56.5],[59.1,57.1],[60.7,58.3],[62.3,56.6],[63.9,58.4],[65.5,56.8],[67.2,57.3],[69,57.9],
  [47.8,52.9],[49.7,52.6],[51.5,54.3],[53.3,51.8],[55.1,52.3],[56.9,51.6],[58.7,52.6],[60.5,54.6],[62.3,51.9],[64.4,51.6],
  [45.2,48.6],[47.4,47.4],[49.4,46.6],[51.4,47.3],[53.4,48.6],[55.3,47.2],[57.3,47.4],[59.3,47.8],
  [43.1,43.4],[45.1,41.8],[47.2,42.3],[49.2,43.9],[51.1,42.6],[53.1,41.6],[55.1,43.9],
  [42.3,38.7],[44.9,37.1],[47.4,36.9],[49.7,37.9],[51.9,39.6],
];
const eCurveY = [18.9, 19.5, 20.3, 21.4, 22.8, 24.8, 27.6, 31.0, 35.0, 40.3, 46.2, 52.6, 59.2, 66.0, 72.0, 77.0, 81.2, 84.6, 87.3, 89.1, 90.5];

const fPts: number[][] = [
  [70.5,96],[74.2,92.9],[76.3,90.8],[77.8,93.6],[79.5,95.1],[80.5,91.5],[81.6,93.8],[82.7,90.6],[83.8,94.6],[84.9,92.1],[86.1,93.4],[87.2,90.8],[88.5,94.6],[90.2,92.3],[92.1,94.8],[79,90.3],[85.5,91.3],
  [68.5,88.6],[70.8,86.5],[72.5,89.3],[73.9,85.6],[75,88],[76.1,86.4],[77.1,89.5],[78.1,85.3],[79.1,87.7],[80.1,89.7],[81.1,86.2],[82.1,88.5],[83.2,85.5],[84.3,87.8],[85.5,89.4],[86.9,86.2],[88.6,88.5],[74.6,89.9],[80.6,85.1],
  [62.7,80.6],[64.2,82.7],[66.8,81.4],[68.7,83.9],[70.2,80.6],[71.5,83.1],[72.7,84.8],[73.8,81.3],[74.9,83.6],[76,80.4],[77.1,82.7],[78.2,84.6],[79.3,81.1],[80.4,83.5],[81.6,80.7],[82.9,82.9],[84.4,84.5],[86.2,81.6],[88.1,83.1],[75.5,84.9],[69.3,81.5],
  [60.4,76.4],[63.3,78.9],[65.4,75.8],[67.1,78.3],[68.5,75.3],[69.8,77.6],[71,79.7],[72.1,76.1],[73.2,78.4],[74.3,75.5],[75.4,77.8],[76.5,79.6],[77.6,76.2],[78.8,78.5],[80,75.7],[81.4,77.9],[83,76.3],[84.2,78.8],[87.9,75.7],[70.4,75.1],[78.3,79.9],
  [56.3,72.4],[58.6,74.6],[60.6,71.1],[62.3,73.5],[63.8,70.6],[65.2,72.9],[66.5,74.7],[67.7,71.3],[68.9,73.6],[70.1,70.5],[71.3,72.8],[72.5,74.6],[73.7,71.1],[75,73.4],[76.4,70.8],[77.9,72.9],[79.6,74.8],[81.6,71.8],[64.1,74.2],
  [54.3,68.9],[56.5,66.2],[58.5,68.5],[60.2,65.6],[61.7,68.2],[63.1,66.1],[64.4,69.5],[65.7,65.8],[66.9,68.1],[68.2,66.3],[69.5,69.6],[70.9,65.5],[72.3,67.9],[74,66.2],[76.2,68.6],[69.3,67.3],
  [51.9,62.1],[54.2,64.4],[56.3,61.3],[58.1,63.8],[59.8,60.5],[61.3,62.9],[62.7,64.7],[64.1,61.2],[65.5,63.5],[67,60.6],[68.6,62.7],[70.3,64.5],[72.3,61.4],[75.6,61.2],[76.9,60.4],[57.3,64.9],[60.5,63.4],
  [48.6,56.3],[50.8,58.8],[52.9,55.7],[54.8,58.4],[56.6,56.1],[58.3,59.4],[59.9,55.5],[61.5,57.7],[63.1,59.6],[64.9,56.2],[66.8,58.3],[69.4,56.5],[35.9,55.6],[62.4,55.1],
  [45.5,51.8],[47.6,54.6],[49.7,51.3],[51.7,53.7],[53.6,50.6],[55.5,53.2],[57.4,51.2],[59.3,54.1],[61.3,50.8],[63.6,52.6],[66.3,51.1],[41.5,51.4],[76.4,52.8],[53.2,55.1],
  [43.4,47.6],[45.8,49.4],[47.9,45.9],[50,48.3],[52.2,46.5],[54.3,49.1],[56.4,45.6],[58.6,47.9],[61.2,46.4],[63.9,48.2],[68.4,45.8],[49.2,44.9],
  [39.4,41.4],[43.1,43.5],[45.4,40.7],[47.6,43.1],[49.8,41.2],[52,43.8],[54.1,40.4],[56.3,42.7],[58.5,44.6],[61,41.8],[66.7,43.9],[57.4,40.1],
  [32.2,36],[36.1,39.7],[40.3,36.4],[42.6,38.5],[45.1,36.1],[47.4,38.8],[49.6,35.5],[51.8,38.2],[54.2,36.6],[56.5,39.1],[58.3,36.4],[44.2,39.4],
  [30,30.6],[33.4,32.7],[34.3,34.8],[36.8,33.4],[39.3,31.2],[42.1,33.9],[44.5,31.4],[46.7,34.1],[49.1,33],[50.6,34.4],[53.4,32.7],[59.6,33.7],[40.6,32.1],
  [22.6,22.2],[25.1,29.4],[30.4,24],[30.9,27.4],[40.6,21.2],[41.9,27.1],[44.2,20.5],[51.7,27.4],[57,29.4],[45.6,28.7],
  [34.1,15.9],[34.3,4.5],[35.2,19.2],[39.4,18.7],[46.5,18.2],[49.7,19.1],[57,15.4],
];
const fCore: number[][] = [
  [72.6,94.3],[75.3,93.1],[76.9,95.3],[78.4,91.9],[80,93.6],[81.1,90.6],[82.2,92.6],[83.3,91.6],[84.3,93.7],[85.4,90.7],[86.7,92.1],[89.1,93.1],[90.9,90.8],
  [69.7,87.2],[71.7,88.2],[73.2,86.9],[74.4,88.6],[75.6,86.9],[76.6,88.7],[77.6,86.7],[78.6,88.6],[79.6,86.4],[80.6,88.4],[81.6,87.4],[82.7,89.4],[83.7,86.6],[84.9,88.6],[86.2,87.6],[87.7,85.4],
  [65.5,83.6],[67.8,82.6],[69.5,84.2],[70.9,82.1],[72.1,80.9],[73.3,82.9],[74.4,84.1],[75.4,82.1],[76.5,83.9],[77.6,81.4],[78.7,83.6],[79.8,82.1],[81,84.1],[82.2,81.6],[83.6,83.4],[85.3,82.6],
  [61.8,77.3],[64.4,76.9],[66.3,78.9],[67.8,76.6],[69.1,79.1],[70.4,76.9],[71.5,78.6],[72.6,77.1],[73.7,79.6],[74.8,76.6],[75.9,78.6],[77,77.1],[78.2,76.4],[79.4,77.4],[80.7,79.1],[82.2,77.1],[85.6,77.6],
  [57.5,72.9],[59.6,73.6],[61.4,72.3],[63.1,74.6],[64.5,71.8],[65.8,73.9],[67.1,72.4],[68.3,74.8],[69.5,71.9],[70.7,73.9],[71.9,71.6],[73.1,73.2],[74.4,74.6],[75.7,72.2],[77.2,74.2],[78.7,71.6],
  [55.4,67.4],[57.4,67.2],[59.3,66.6],[60.9,68.9],[62.4,67.1],[63.7,65.4],[65,67.6],[66.3,66.6],[67.5,69.2],[68.8,67.6],[70.2,66.3],[71.6,68.7],[73.1,66.1],[75.1,67.3],
  [53.1,63.1],[55.3,62.6],[57.2,61.6],[58.9,62.8],[60.6,61.9],[62,63.6],[63.4,62.1],[64.8,64.4],[66.2,62.1],[67.8,63.9],[69.4,61.6],[71.3,62.9],
  [49.7,57.4],[51.8,56.6],[53.8,57.1],[55.7,57.4],[57.4,56.8],[59.1,57.6],[60.7,56.4],[62.3,58.2],[64,57.6],[65.8,56.9],[67.8,57.6],
  [46.6,52.6],[48.6,52.6],[50.7,52.3],[52.6,52.3],[54.5,51.8],[56.4,52.4],[58.3,52.6],[60.3,52.9],[62.4,51.6],
  [44.6,47.4],[46.9,47.6],[49,46.8],[51.1,47.3],[53.2,47.8],[55.3,47.3],[57.5,46.7],[60,47.3],
  [41.2,42.5],[44.2,41.9],[46.5,42.3],[48.7,42.6],[50.9,42.4],[53,41.9],[55.2,41.6],
  [41.5,37.6],[43.4,36.8],[46.2,37.4],[48.5,37.6],[50.7,36.9],[53,37.8],
];
const fCurveY = [13.8, 15.0, 16.4, 18.4, 20.8, 24.0, 27.8, 31.6, 35.8, 40.7, 46.2, 52.2, 58.4, 64.7, 71.0, 76.8, 82.0, 86.6, 90.7, 94.3, 97.4];

const xNames = ["NIQE scores", "VGG-16 scores", "RAPIQUE scores", "GAME-VQP-NSS scores", "GAME-VQP-CNN scores", "GAME-VQP scores"];
const captions = ["(a)", "(b)", "(c)", "(d)", "(e)", "(f)"];
const figCaption = "Fig. 10.   Scatter plots of predicted quality scores versus MOS trained with";
const xMax = [12, 100, 100, 100, 100, 100];
const xStep = [2, 10, 10, 10, 10, 10];

// ---------- layout ----------
const grids = [
  { left: 50, top: 2, width: 241, height: 190 },
  { left: 377, top: 2, width: 241, height: 190 },
  { left: 50, top: 295, width: 241, height: 189 },
  { left: 377, top: 295, width: 241, height: 189 },
  { left: 50, top: 587, width: 241, height: 191 },
  { left: 377, top: 587, width: 241, height: 191 },
];

export default function App() {
  const ref = useRef<HTMLDivElement>(null);
  useEffect(() => {
    if (!ref.current) return;
    const chart = echarts.init(ref.current, undefined, { renderer: "svg" });
    const pts = [
      [...aPts, ...aCore], [...bPts, ...bCore], [...cPts, ...cCore],
      [...dPts, ...dCore], [...ePts, ...eCore], [...fPts, ...fCore],
    ];
    const cx = [aCurveX, curveX100, curveX100, curveX100, curveX100, curveX100];
    const cy = [aCurveY, bCurveY, cCurveY, dCurveY, eCurveY, fCurveY];
    const axisColor = "#7f7f7f";
    const labelStyle = { fontSize: 7, color: "#4d4d4d", fontFamily: "Liberation Sans", margin: 4 };
    const xAxis = grids.map((_, i) => ({
      type: "value",
      gridIndex: i,
      min: 0,
      max: xMax[i],
      interval: xStep[i],
      name: xNames[i],
      nameLocation: "middle",
      nameGap: 15,
      nameTextStyle: { fontSize: 8, color: "#333", fontFamily: "Liberation Sans" },
      axisLine: { show: true, onZero: false, lineStyle: { color: axisColor, width: 1 } },
      axisTick: { show: true, inside: true, length: 2.5, lineStyle: { color: axisColor } },
      axisLabel: labelStyle,
      splitLine: { show: true, showMinLine: false, showMaxLine: true, lineStyle: { color: "#e8e8e8", width: 1 } },
    }));
    const yAxis = grids.map((_, i) => ({
      type: "value",
      gridIndex: i,
      min: 0,
      max: 100,
      interval: 10,
      name: "MOS",
      nameLocation: "middle",
      nameGap: 17,
      nameTextStyle: { fontSize: 8, color: "#333", fontFamily: "Liberation Sans" },
      axisLine: { show: true, onZero: false, lineStyle: { color: axisColor, width: 1 } },
      axisTick: { show: true, inside: true, length: 2.5, lineStyle: { color: axisColor } },
      axisLabel: labelStyle,
      splitLine: { show: true, showMinLine: false, showMaxLine: true, lineStyle: { color: "#e8e8e8", width: 1 } },
    }));
    const series: any[] = [];
    pts.forEach((p, i) => {
      series.push({
        type: "scatter",
        xAxisIndex: i,
        yAxisIndex: i,
        data: p,
        symbol: "circle",
        symbolSize: 4.4,
        itemStyle: { color: "#0000ff" },
        z: 2,
      });
      series.push({
        type: "line",
        xAxisIndex: i,
        yAxisIndex: i,
        data: cx[i].map((x, k) => [x, cy[i][k]]),
        smooth: 0.3,
        showSymbol: false,
        symbol: "none",
        lineStyle: { color: "#ff0000", width: 2 },
        z: 3,
      });
    });
    const capPos = [
      [155, 243], [484, 243], [155, 535], [484, 535], [155, 828], [484, 828],
    ];
    const graphic: any[] = captions.map((c, i) => ({
      type: "text",
      x: capPos[i][0],
      y: capPos[i][1],
      style: {
        text: c,
        fontSize: 21,
        fontFamily: "Liberation Serif",
        fill: "#000",
        align: "center",
        verticalAlign: "middle",
      },
    }));
    graphic.push({
      type: "text",
      x: 1,
      y: 862,
      style: {
        text: figCaption,
        fontSize: 22,
        fontFamily: "Liberation Serif",
        fill: "#000",
        align: "left",
        verticalAlign: "top",
      },
    });
    chart.setOption({
      animation: false,
      backgroundColor: "#ffffff",
      grid: grids,
      xAxis,
      yAxis,
      series,
      graphic,
    });
    return () => chart.dispose();
  }, []);
  return (
    <div
      ref={ref}
      style={{ position: "absolute", left: 0, top: 0, width: 640, height: 870, background: "#fff" }}
    />
  );
}
